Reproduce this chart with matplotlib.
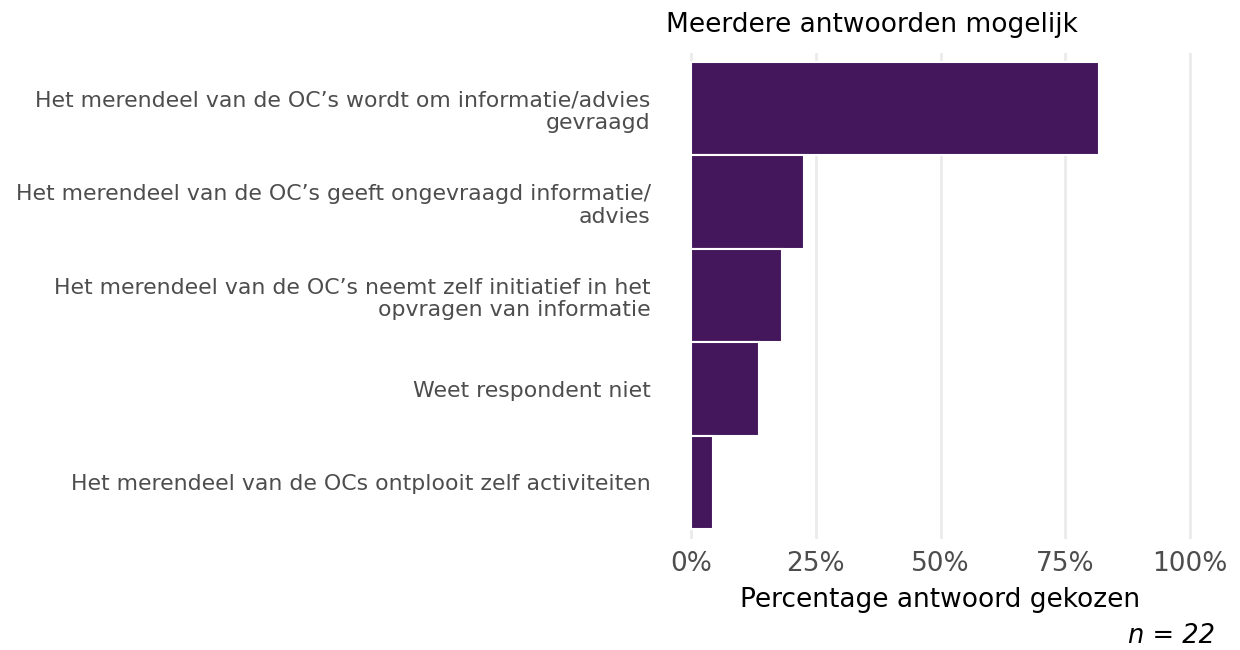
import matplotlib
matplotlib.use("Agg")
import matplotlib.pyplot as plt
import matplotlib.ticker as ticker

# data, top to bottom
labels = [
    "Het merendeel van de OC\u2019s wordt om informatie/advies\ngevraagd",
    "Het merendeel van de OC\u2019s geeft ongevraagd informatie/\nadvies",
    "Het merendeel van de OC\u2019s neemt zelf initiatief in het\nopvragen van informatie",
    "Weet respondent niet",
    "Het merendeel van de OCs ontplooit zelf activiteiten",
]
percent = [81.8, 22.7, 18.2, 13.6, 4.5]
xticks = [0, 25, 50, 75, 100]

plt.rcParams['font.family'] = ['DejaVu Sans']

fig = plt.figure(figsize=(12.4, 6.5), dpi=100)
ax = fig.add_axes([0.537, 0.1715, 0.443, 0.7475])

ypos = list(range(len(labels)))[::-1]
ax.barh(ypos, percent, height=1.0, color='#44165b', edgecolor='white', linewidth=1.5, zorder=3)

ax.set_xlim(-5, 105)
ax.set_ylim(-0.6, 4.6)
ax.set_xticks(xticks)
ax.xaxis.set_major_formatter(ticker.FuncFormatter(lambda v, p: f"{v:.0f}%"))
ax.set_yticks(ypos)
ax.set_yticklabels(labels, fontsize=15.8, color='#4d4d4d', linespacing=1.17)
ax.tick_params(axis='x', labelsize=19, colors='#4d4d4d', length=0, pad=9)
ax.tick_params(axis='y', length=0, pad=11)
for lab in ax.get_yticklabels():
    lab.set_horizontalalignment('right')

ax.grid(axis='x', color='#ebebeb', linewidth=2, zorder=0)
ax.grid(axis='y', visible=False)
for s in ax.spines.values():
    s.set_visible(False)

ax.set_xlabel("Percentage antwoord gekozen", fontsize=19, color='black', labelpad=7)
ax.set_title("Meerdere antwoorden mogelijk", fontsize=19, loc='left', pad=15, x=0.0)
fig.text(0.980, 0.002, "n = 22", fontsize=18.5, style='italic', ha='right', va='bottom')

fig.savefig("out.png", dpi=100)
